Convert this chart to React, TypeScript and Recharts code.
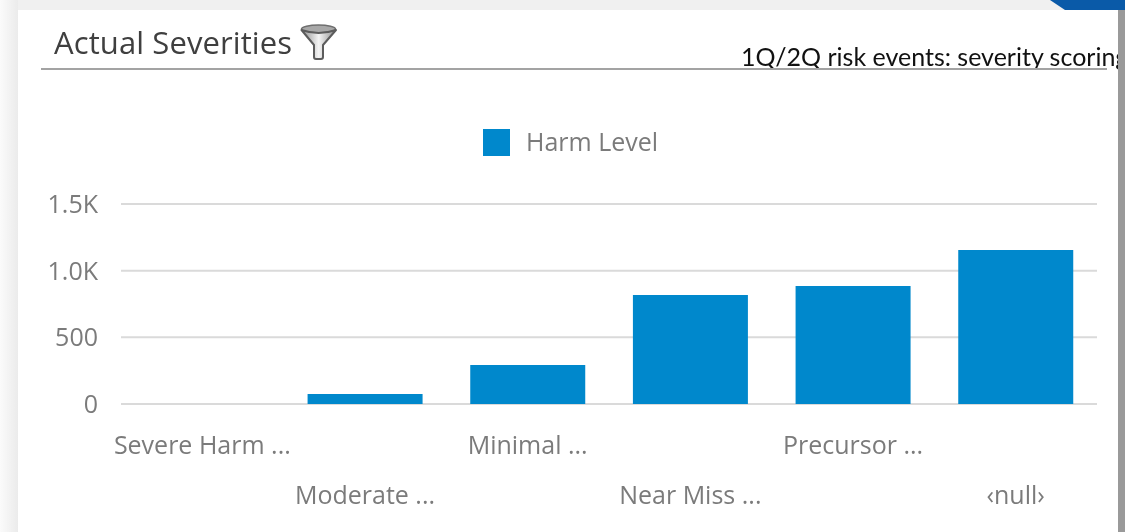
import React from "react";
import { BarChart, Bar, XAxis, YAxis, CartesianGrid, Legend } from "recharts";

const categories = ["Severe Harm ...", "Moderate ...", "Minimal ...", "Near Miss ...", "Precursor ...", "‹null›"];
const harmValues = [0, 75, 292, 818, 885, 1155];
const yTicks = [0, 500, 1000, 1500];
const yTickLabels = ["0", "500", "1.0K", "1.5K"];
const data = categories.map((name, i) => ({ name, harm: harmValues[i] }));

const FONT = "'Open Sans', sans-serif";
const BLUE = "#0088cc";
const TICK = "#7b7b7b";

function XTick(props: any) {
  const { x, payload, index } = props;
  const row = index % 2;
  return (
    <text x={x} y={row ? 504 : 454} textAnchor="middle" fontFamily={FONT} fontSize={25} fill={TICK}>
      {payload.value}
    </text>
  );
}

function LegendContent() {
  return (
    <div style={{ position: "absolute", left: 483, top: 124, display: "flex", alignItems: "center", fontFamily: FONT, fontSize: 25, color: TICK, whiteSpace: "nowrap" }}>
      <span style={{ width: 27, height: 27, background: BLUE, display: "inline-block", marginRight: 16, position: "relative", top: 1 }} />
      Harm Level
    </div>
  );
}

function Funnel() {
  return (
    <svg width={42} height={42} style={{ position: "absolute", left: 298, top: 21 }}>
      <defs>
        <linearGradient id="fg" x1="0" x2="1" y1="0" y2="0">
          <stop offset="0" stopColor="#8c8c8c" />
          <stop offset="0.5" stopColor="#f4f4f4" />
          <stop offset="1" stopColor="#8c8c8c" />
        </linearGradient>
      </defs>
      <ellipse cx={20.5} cy={8} rx={17} ry={4} fill="#a8a8a8" stroke="#6f6f6f" strokeWidth={1.5} />
      <path d="M3.5 9 L16 24 L16 36 Q16 38 18 38 L23 38 Q25 38 25 36 L25 24 L38 9 Q20.5 15 3.5 9 Z" fill="url(#fg)" stroke="#5c5c5c" strokeWidth={2} strokeLinejoin="round" />
    </svg>
  );
}

export default function App() {
  return (
    <div style={{ position: "absolute", left: 0, top: 0, width: 1125, height: 532, overflow: "hidden", background: "#f0f0f0", filter: "blur(0.5px)" }}>
      <div style={{ position: "absolute", left: 0, top: 0, width: 18, height: 532, background: "linear-gradient(90deg, #fbfbfb, #ebebeb)" }} />
      <div style={{ position: "absolute", left: 1050, top: 0, width: 75, height: 10, background: "#0a5aa8", clipPath: "polygon(0 0, 100% 0, 100% 100%, 20% 100%)" }} />
      <div style={{ position: "absolute", left: 1118, top: 10, width: 7, height: 522, background: "#9a9a9a" }} />
      <div style={{ position: "absolute", left: 18, top: 10, width: 1100, height: 522, background: "#fff", overflow: "hidden" }}>
        <div style={{ position: "absolute", left: 723, top: 29, fontFamily: "Lato, sans-serif", fontSize: 25, lineHeight: "34px", color: "#111", whiteSpace: "nowrap" }}>
          1Q/2Q risk events: severity scoring
        </div>
      </div>
      <div style={{ position: "absolute", left: 54, top: 21, fontFamily: FONT, fontSize: 31, lineHeight: "42px", color: "#3f3f3f", whiteSpace: "nowrap", letterSpacing: 0.1 }}>
        Actual Severities
      </div>
      <Funnel />
      <div style={{ position: "absolute", left: 41, top: 68, width: 1066, height: 2, background: "#a3a3a3" }} />
      <div style={{ position: "absolute", left: 0, top: 0 }}>
        <BarChart width={1125} height={532} data={data} margin={{ top: 204, right: 28, bottom: 0, left: 0 }} barCategoryGap="14.7%">
          <CartesianGrid horizontal vertical={false} stroke="#dadada" strokeWidth={2} />
          <XAxis dataKey="name" height={128} interval={0} tick={<XTick />} axisLine={false} tickLine={false} />
          <YAxis
            width={121}
            domain={[0, 1500]}
            ticks={yTicks}
            tickFormatter={(v: number) => yTickLabels[yTicks.indexOf(v)]}
            axisLine={false}
            tickLine={false}
            tickMargin={17}
            tick={{ fontFamily: FONT, fontSize: 25, fill: TICK }}
          />
          <Legend content={<LegendContent />} wrapperStyle={{ position: "absolute", left: 0, top: 0, width: 0, height: 0 }} />
          <Bar dataKey="harm" name="Harm Level" fill={BLUE} isAnimationActive={false} />
        </BarChart>
      </div>
    </div>
  );
}
